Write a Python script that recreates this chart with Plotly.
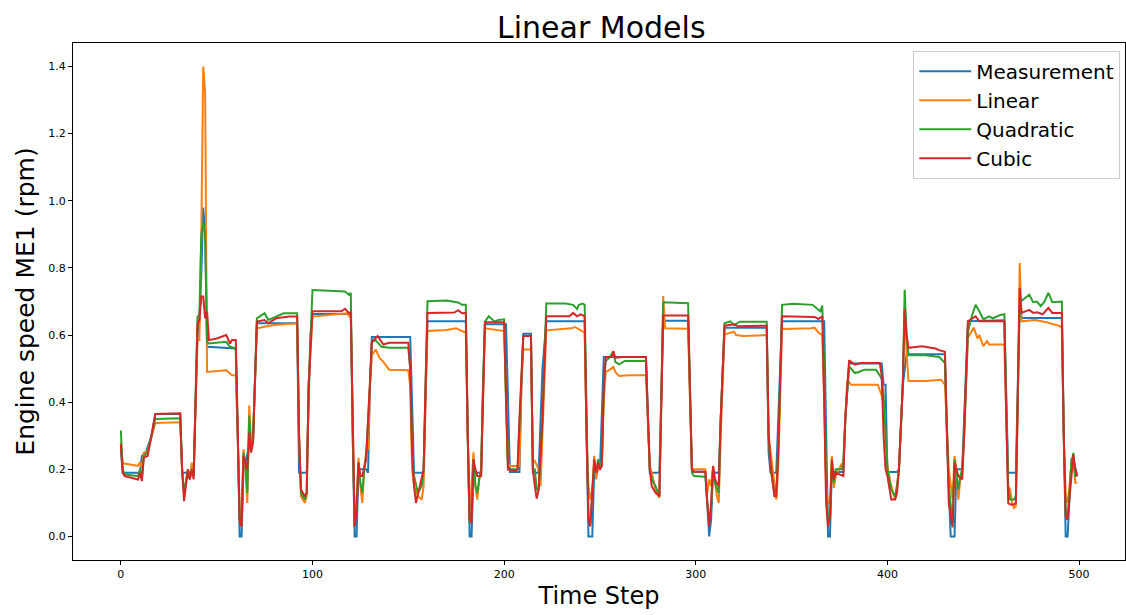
import plotly.graph_objects as go

# (time step, value) samples for each series
measurement = [
    (0, 0.26), (1, 0.19), (9, 0.19), (10, 0.19), (11, 0.24), (13, 0.25), (16, 0.30), (18, 0.365),
    (31, 0.365), (32, 0.19), (38, 0.19), (39, 0.40), (40, 0.60), (41, 0.64), (42, 0.78), (43, 0.98),
    (44, 0.90), (45, 0.565), (60, 0.56), (61, 0.30), (62, 0.0), (63, 0.0), (64, 0.20), (65, 0.22),
    (67, 0.27), (69, 0.29), (70, 0.45), (71, 0.635), (92, 0.635), (93, 0.19), (97, 0.19), (98, 0.40),
    (99, 0.60), (100, 0.663), (120, 0.663), (121, 0.30), (122, 0.0), (123, 0.0), (124, 0.20),
    (128, 0.20), (129, 0.19), (130, 0.45), (131, 0.594), (151, 0.594), (153, 0.19), (158, 0.19),
    (159, 0.40), (160, 0.641), (180, 0.641), (181, 0.30), (182, 0.0), (183, 0.0), (184, 0.20),
    (185, 0.19), (188, 0.19), (189, 0.45), (190, 0.632), (201, 0.632), (203, 0.192), (208, 0.192),
    (209, 0.45), (210, 0.604), (214, 0.604), (215, 0.19), (218, 0.19), (220, 0.50), (222, 0.641),
    (242, 0.641), (243, 0.30), (244, 0.0), (246, 0.0), (247, 0.20), (250, 0.20), (252, 0.535),
    (274, 0.535), (276, 0.19), (281, 0.19), (282, 0.45), (283, 0.643), (296, 0.643), (297, 0.40),
    (298, 0.193), (305, 0.193), (306, 0.10), (307, 0.0), (308, 0.05), (309, 0.20), (310, 0.19),
    (312, 0.19), (313, 0.35), (315, 0.622), (337, 0.622), (338, 0.25), (339, 0.19), (342, 0.19),
    (344, 0.50), (345, 0.641), (367, 0.641), (368, 0.30), (369, 0.0), (370, 0.0), (371, 0.20),
    (372, 0.192), (377, 0.192), (378, 0.35), (380, 0.515), (397, 0.515), (398, 0.452), (399, 0.452),
    (400, 0.192), (405, 0.192), (406, 0.20), (408, 0.45), (409, 0.50), (410, 0.543), (430, 0.543),
    (431, 0.30), (433, 0.0), (435, 0.0), (436, 0.20), (439, 0.20), (440, 0.35), (442, 0.641),
    (461, 0.644), (462, 0.40), (463, 0.19), (467, 0.19), (468, 0.50), (469, 0.70), (470, 0.651),
    (491, 0.651), (492, 0.30), (493, 0.0), (494, 0.0), (495, 0.10), (496, 0.23), (497, 0.23),
    (498, 0.20), (499, 0.18),
]

linear = [
    (0, 0.28), (1, 0.218), (9, 0.21), (10, 0.222), (11, 0.205), (12, 0.25), (14, 0.255), (16, 0.30),
    (18, 0.338), (31, 0.34), (32, 0.20), (33, 0.13), (34, 0.17), (35, 0.20), (36, 0.17), (37, 0.22),
    (38, 0.18), (39, 0.40), (40, 0.585), (41, 0.585), (42, 0.90), (43, 1.40), (44, 1.32), (45, 0.49),
    (55, 0.495), (58, 0.48), (60, 0.48), (61, 0.30), (62, 0.08), (63, 0.05), (64, 0.26), (65, 0.20),
    (66, 0.10), (67, 0.39), (68, 0.27), (69, 0.29), (70, 0.45), (71, 0.62), (75, 0.625), (80, 0.63),
    (92, 0.635), (93, 0.30), (94, 0.12), (96, 0.10), (97, 0.12), (98, 0.45), (100, 0.655),
    (110, 0.66), (118, 0.665), (120, 0.65), (121, 0.30), (122, 0.06), (123, 0.10), (124, 0.234),
    (125, 0.15), (126, 0.10), (127, 0.20), (128, 0.255), (129, 0.26), (130, 0.45), (131, 0.54),
    (133, 0.557), (135, 0.532), (137, 0.52), (140, 0.497), (150, 0.495), (151, 0.45), (152, 0.20),
    (153, 0.15), (155, 0.12), (157, 0.11), (158, 0.15), (159, 0.40), (160, 0.612), (170, 0.615),
    (175, 0.62), (178, 0.612), (180, 0.607), (181, 0.30), (182, 0.06), (184, 0.251), (185, 0.15),
    (186, 0.11), (187, 0.17), (188, 0.20), (189, 0.45), (190, 0.62), (200, 0.612), (201, 0.40),
    (202, 0.22), (203, 0.21), (208, 0.21), (209, 0.45), (210, 0.557), (214, 0.557), (215, 0.22),
    (216, 0.225), (218, 0.20), (219, 0.15), (221, 0.45), (222, 0.614), (235, 0.62), (237, 0.624),
    (240, 0.614), (242, 0.607), (243, 0.30), (244, 0.15), (245, 0.11), (246, 0.14), (247, 0.24),
    (248, 0.17), (249, 0.20), (251, 0.22), (252, 0.40), (253, 0.49), (256, 0.50), (257, 0.507),
    (258, 0.49), (260, 0.478), (265, 0.48), (274, 0.48), (275, 0.35), (276, 0.21), (277, 0.19),
    (279, 0.14), (281, 0.115), (282, 0.45), (283, 0.716), (284, 0.62), (296, 0.619), (297, 0.40),
    (298, 0.20), (305, 0.20), (306, 0.13), (307, 0.17), (308, 0.15), (309, 0.21), (310, 0.17),
    (311, 0.12), (312, 0.10), (313, 0.30), (315, 0.602), (320, 0.61), (321, 0.60), (325, 0.597),
    (337, 0.60), (338, 0.30), (339, 0.255), (340, 0.20), (342, 0.11), (343, 0.20), (345, 0.618),
    (360, 0.62), (362, 0.622), (364, 0.607), (366, 0.60), (367, 0.40), (368, 0.15), (369, 0.10),
    (370, 0.10), (371, 0.24), (372, 0.145), (373, 0.18), (376, 0.215), (377, 0.22), (378, 0.35),
    (379, 0.467), (381, 0.452), (395, 0.452), (397, 0.42), (398, 0.393), (399, 0.30), (400, 0.21),
    (401, 0.18), (402, 0.15), (404, 0.11), (406, 0.20), (408, 0.45), (409, 0.68), (410, 0.55),
    (411, 0.463), (420, 0.463), (428, 0.467), (430, 0.452), (431, 0.30), (432, 0.20), (434, 0.11),
    (435, 0.24), (436, 0.20), (437, 0.11), (438, 0.17), (439, 0.18), (440, 0.30), (442, 0.592),
    (445, 0.622), (447, 0.59), (448, 0.60), (450, 0.567), (452, 0.582), (453, 0.572), (461, 0.572),
    (462, 0.35), (463, 0.15), (464, 0.14), (465, 0.10), (466, 0.085), (467, 0.09), (468, 0.40),
    (469, 0.815), (470, 0.641), (477, 0.645), (483, 0.638), (490, 0.627), (491, 0.62), (492, 0.30),
    (493, 0.12), (494, 0.10), (495, 0.15), (496, 0.22), (497, 0.23), (498, 0.16), (499, 0.16),
]

quadratic = [
    (0, 0.316), (1, 0.20), (2, 0.185), (9, 0.18), (10, 0.20), (11, 0.175), (12, 0.24), (14, 0.25),
    (16, 0.30), (18, 0.35), (31, 0.352), (32, 0.19), (33, 0.13), (34, 0.16), (35, 0.20), (36, 0.17),
    (37, 0.20), (38, 0.18), (39, 0.40), (40, 0.655), (41, 0.66), (42, 0.90), (43, 0.935), (44, 0.90),
    (45, 0.58), (46, 0.575), (55, 0.58), (57, 0.565), (60, 0.56), (61, 0.30), (62, 0.05), (63, 0.03),
    (64, 0.25), (65, 0.22), (66, 0.13), (67, 0.36), (68, 0.26), (69, 0.29), (70, 0.45), (71, 0.65),
    (75, 0.665), (77, 0.645), (81, 0.655), (85, 0.665), (92, 0.665), (93, 0.30), (94, 0.13),
    (96, 0.11), (97, 0.13), (98, 0.45), (100, 0.734), (117, 0.73), (119, 0.72), (120, 0.725),
    (121, 0.30), (122, 0.03), (123, 0.08), (124, 0.22), (125, 0.16), (126, 0.13), (127, 0.20),
    (128, 0.24), (130, 0.45), (131, 0.58), (133, 0.585), (136, 0.565), (140, 0.562), (150, 0.562),
    (151, 0.50), (152, 0.25), (153, 0.18), (155, 0.13), (157, 0.15), (158, 0.20), (159, 0.45),
    (160, 0.701), (170, 0.703), (176, 0.697), (178, 0.69), (180, 0.69), (181, 0.30), (182, 0.04),
    (183, 0.05), (184, 0.23), (185, 0.15), (186, 0.13), (187, 0.17), (188, 0.20), (189, 0.45),
    (190, 0.64), (192, 0.656), (195, 0.64), (197, 0.645), (200, 0.647), (201, 0.40), (202, 0.20),
    (207, 0.20), (208, 0.35), (210, 0.597), (214, 0.597), (215, 0.20), (216, 0.20), (217, 0.14),
    (218, 0.14), (220, 0.35), (222, 0.694), (232, 0.694), (236, 0.69), (238, 0.678), (239, 0.69),
    (241, 0.694), (242, 0.69), (243, 0.30), (244, 0.06), (245, 0.04), (246, 0.15), (247, 0.22),
    (248, 0.19), (249, 0.23), (250, 0.20), (251, 0.22), (252, 0.45), (253, 0.523), (255, 0.533),
    (257, 0.552), (258, 0.52), (260, 0.513), (263, 0.523), (274, 0.523), (275, 0.35), (276, 0.20),
    (277, 0.17), (279, 0.15), (281, 0.12), (282, 0.45), (283, 0.698), (296, 0.695), (297, 0.40),
    (298, 0.19), (299, 0.18), (305, 0.178), (306, 0.10), (307, 0.05), (308, 0.08), (309, 0.20),
    (310, 0.16), (312, 0.13), (313, 0.35), (315, 0.635), (318, 0.641), (320, 0.63), (323, 0.64),
    (337, 0.64), (338, 0.30), (339, 0.20), (341, 0.13), (342, 0.14), (343, 0.25), (345, 0.69),
    (351, 0.693), (361, 0.69), (363, 0.68), (365, 0.671), (366, 0.688), (367, 0.50), (368, 0.15),
    (369, 0.05), (370, 0.05), (371, 0.22), (372, 0.16), (373, 0.20), (376, 0.20), (377, 0.22),
    (378, 0.35), (380, 0.507), (383, 0.487), (385, 0.49), (388, 0.497), (394, 0.497), (396, 0.48),
    (397, 0.47), (398, 0.42), (399, 0.30), (400, 0.20), (402, 0.14), (404, 0.12), (405, 0.15),
    (406, 0.20), (408, 0.45), (409, 0.735), (410, 0.60), (411, 0.54), (420, 0.54), (427, 0.535),
    (430, 0.517), (431, 0.30), (432, 0.15), (434, 0.04), (435, 0.23), (436, 0.18), (437, 0.14),
    (438, 0.18), (439, 0.20), (440, 0.30), (442, 0.61), (444, 0.656), (446, 0.69), (448, 0.67),
    (450, 0.647), (453, 0.656), (455, 0.65), (459, 0.66), (461, 0.662), (462, 0.40), (463, 0.15),
    (464, 0.11), (466, 0.11), (467, 0.12), (468, 0.40), (469, 0.698), (474, 0.72), (476, 0.698),
    (478, 0.70), (480, 0.686), (482, 0.70), (484, 0.726), (486, 0.698), (491, 0.70), (492, 0.30),
    (493, 0.08), (494, 0.05), (495, 0.13), (496, 0.22), (497, 0.249), (498, 0.18), (499, 0.18),
]

cubic = [
    (0, 0.275), (1, 0.19), (2, 0.18), (5, 0.175), (9, 0.17), (10, 0.19), (11, 0.165), (12, 0.235),
    (14, 0.24), (16, 0.30), (18, 0.365), (31, 0.367), (32, 0.20), (33, 0.105), (34, 0.16),
    (35, 0.20), (36, 0.17), (37, 0.20), (38, 0.17), (39, 0.40), (40, 0.63), (41, 0.645),
    (42, 0.715), (43, 0.715), (44, 0.65), (45, 0.67), (46, 0.585), (50, 0.59), (55, 0.60),
    (57, 0.575), (58, 0.585), (60, 0.585), (61, 0.30), (62, 0.05), (63, 0.03), (64, 0.24),
    (65, 0.22), (66, 0.20), (67, 0.31), (68, 0.25), (69, 0.28), (70, 0.45), (71, 0.64), (75, 0.645),
    (77, 0.635), (81, 0.65), (88, 0.655), (92, 0.655), (93, 0.30), (94, 0.14), (95, 0.13),
    (96, 0.12), (97, 0.13), (98, 0.45), (100, 0.671), (115, 0.671), (117, 0.678), (119, 0.665),
    (120, 0.668), (121, 0.30), (122, 0.03), (123, 0.07), (124, 0.22), (125, 0.18), (126, 0.18),
    (128, 0.23), (130, 0.45), (131, 0.58), (134, 0.597), (137, 0.572), (140, 0.577), (150, 0.577),
    (151, 0.50), (152, 0.25), (153, 0.15), (154, 0.10), (156, 0.15), (158, 0.20), (159, 0.45),
    (160, 0.666), (174, 0.667), (176, 0.674), (178, 0.665), (180, 0.666), (181, 0.30), (182, 0.05),
    (183, 0.04), (184, 0.23), (185, 0.20), (186, 0.18), (188, 0.18), (189, 0.45), (190, 0.638),
    (200, 0.638), (201, 0.40), (202, 0.20), (206, 0.195), (207, 0.20), (208, 0.35), (210, 0.597),
    (214, 0.597), (215, 0.20), (216, 0.15), (217, 0.113), (218, 0.14), (220, 0.35), (222, 0.656),
    (234, 0.656), (236, 0.666), (238, 0.656), (240, 0.662), (242, 0.656), (243, 0.30), (244, 0.05),
    (245, 0.03), (246, 0.13), (247, 0.23), (248, 0.19), (249, 0.22), (250, 0.20), (251, 0.21),
    (252, 0.45), (253, 0.535), (256, 0.535), (257, 0.552), (258, 0.533), (262, 0.535), (274, 0.535),
    (275, 0.35), (276, 0.20), (277, 0.15), (279, 0.13), (281, 0.12), (282, 0.45), (283, 0.658),
    (296, 0.658), (297, 0.40), (298, 0.20), (299, 0.193), (305, 0.193), (306, 0.10), (307, 0.03),
    (308, 0.10), (309, 0.21), (310, 0.17), (311, 0.16), (312, 0.15), (313, 0.35), (315, 0.628),
    (320, 0.632), (322, 0.626), (337, 0.628), (338, 0.30), (339, 0.22), (341, 0.12), (342, 0.12),
    (343, 0.25), (345, 0.656), (360, 0.656), (362, 0.654), (364, 0.648), (366, 0.656), (367, 0.40),
    (368, 0.10), (369, 0.03), (370, 0.06), (371, 0.23), (372, 0.17), (373, 0.19), (377, 0.18),
    (378, 0.35), (380, 0.525), (383, 0.512), (386, 0.517), (396, 0.517), (397, 0.48), (398, 0.30),
    (399, 0.20), (400, 0.18), (401, 0.15), (402, 0.11), (404, 0.11), (405, 0.13), (406, 0.20),
    (408, 0.45), (409, 0.677), (410, 0.60), (411, 0.562), (418, 0.567), (425, 0.56), (427, 0.555),
    (430, 0.55), (431, 0.30), (432, 0.10), (434, 0.027), (435, 0.22), (436, 0.20), (437, 0.18),
    (439, 0.17), (440, 0.30), (442, 0.641), (446, 0.656), (448, 0.641), (461, 0.641), (462, 0.35),
    (463, 0.10), (464, 0.095), (466, 0.095), (467, 0.10), (468, 0.45), (469, 0.741), (470, 0.666),
    (474, 0.675), (476, 0.666), (478, 0.668), (481, 0.662), (484, 0.681), (486, 0.666), (491, 0.666),
    (492, 0.30), (493, 0.06), (494, 0.05), (495, 0.12), (496, 0.20), (497, 0.244), (498, 0.20),
    (499, 0.18),
]

series_names = ["Measurement", "Linear", "Quadratic", "Cubic"]
series_colors = ["#1f77b4", "#ff7f0e", "#2ca02c", "#d62728"]
series_data = [measurement, linear, quadratic, cubic]

x_ticks = [0, 100, 200, 300, 400, 500]
y_ticks = [0.0, 0.2, 0.4, 0.6, 0.8, 1.0, 1.2, 1.4]

FONT = "DejaVu Sans, Liberation Sans, sans-serif"

fig = go.Figure()
for name, color, pts in zip(series_names, series_colors, series_data):
    t, v = zip(*pts)
    fig.add_trace(go.Scatter(
        x=list(t), y=list(v), mode="lines", name=name, legendgroup=name,
        line=dict(color=color, width=2),
    ))

axis_common = dict(
    showline=True, linecolor="black", linewidth=1, mirror=True,
    ticks="outside", ticklen=4, tickwidth=1, tickcolor="black",
    showgrid=False, zeroline=False,
    tickfont=dict(family=FONT, size=11, color="black"),
)

fig.update_layout(
    width=1126, height=615,
    margin=dict(l=73, r=1, t=43, b=55),
    paper_bgcolor="white", plot_bgcolor="white",
    title=dict(text="Linear Models", x=0.534, xanchor="center", y=0.956, yanchor="middle",
               font=dict(family=FONT, size=30, color="black")),
    xaxis=dict(range=[-24.95, 523.95], tickvals=x_ticks,
               title=dict(text="Time Step", font=dict(family=FONT, size=24, color="black"), standoff=6),
               **axis_common),
    yaxis=dict(range=[-0.07, 1.47], tickvals=y_ticks, tickformat=".1f",
               title=dict(text="Engine speed ME1 (rpm)", font=dict(family=FONT, size=25, color="black"), standoff=6),
               **axis_common),
    legend=dict(
        x=0.9955, xanchor="right", y=0.985, yanchor="top",
        bordercolor="#cccccc", borderwidth=1, bgcolor="rgba(255,255,255,0.8)",
        font=dict(family=FONT, size=20, color="black"),
        tracegroupgap=0, itemwidth=52,
    ),
    showlegend=True,
)

fig.write_html("out.html")
